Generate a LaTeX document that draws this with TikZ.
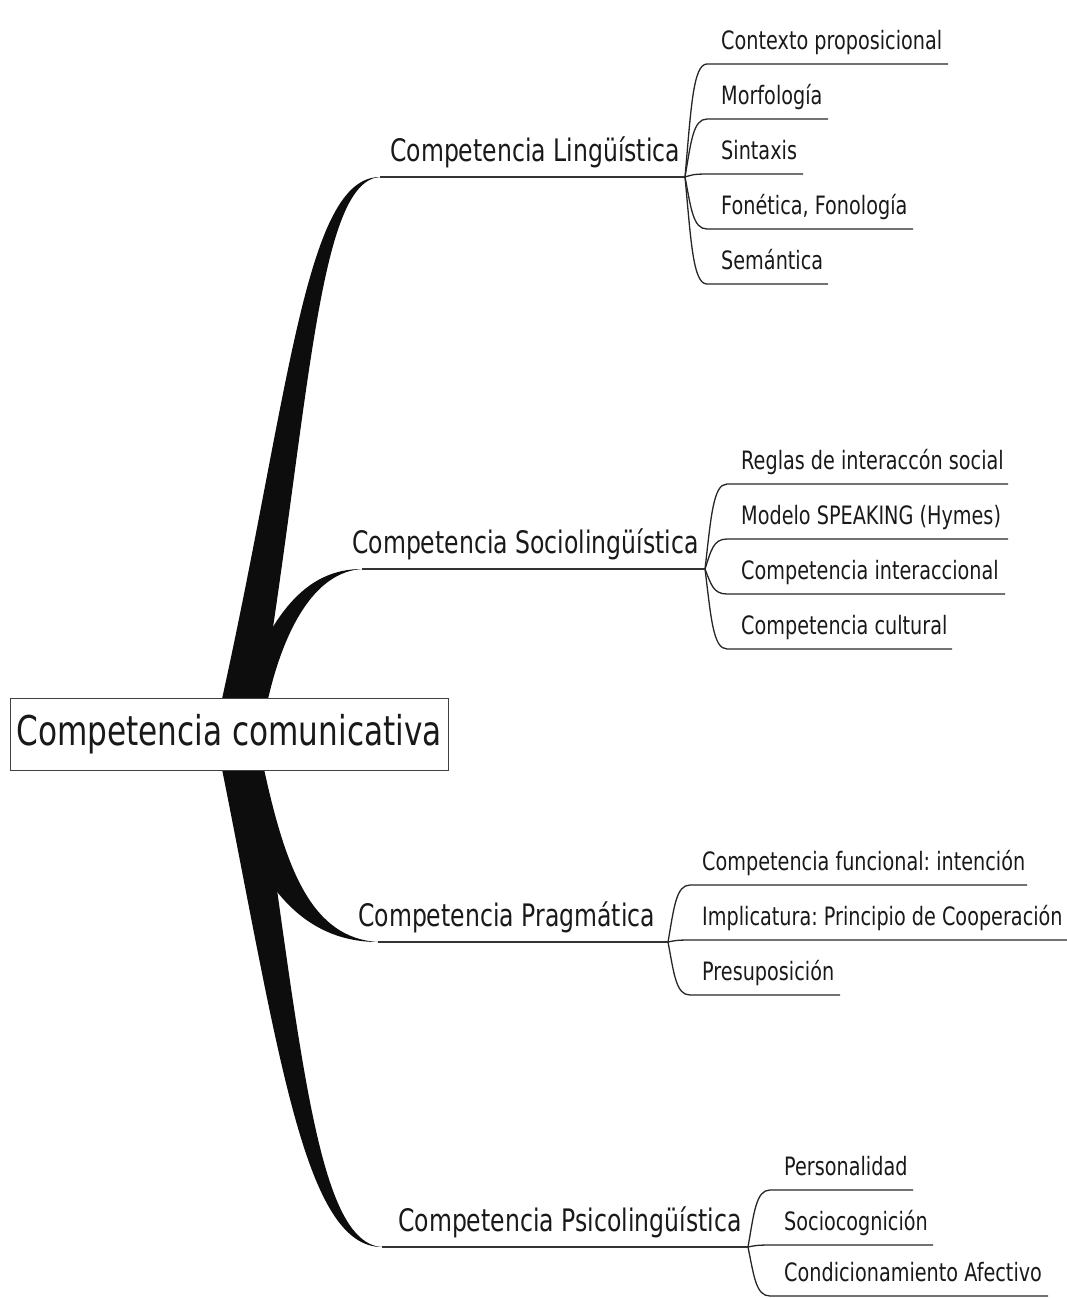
\documentclass[tikz,border=0pt]{standalone}
\usepackage{fontspec}
\setmainfont{DejaVu Sans}[FakeStretch=0.76]
\usetikzlibrary{calc}
\frenchspacing
\begin{document}
\begin{tikzpicture}[x=1pt,y=-1pt,
  trunk/.style={fill=black!95, draw=none},
  bline/.style={draw=black!80, line width=1.6pt},
  cline/.style={draw=black!85, line width=1.3pt},
  rootbox/.style={draw=black!75, line width=1pt, fill=white, minimum width=438pt, minimum height=72pt, inner sep=0pt, font=\fontsize{41}{48}\selectfont, text=black!90},
  btext/.style={anchor=base west, inner sep=0pt, font=\fontsize{31}{36}\selectfont, text=black!90},
  ctext/.style={anchor=base west, inner sep=0pt, font=\fontsize{25.3}{30}\selectfont, text=black!90}]
\useasboundingbox (0,0) rectangle (1067,1298);

% trunk end points
\coordinate (lingA) at (380,177);
\coordinate (socA)  at (362,569);
\coordinate (pragA) at (378,942);
\coordinate (psiA)  at (382,1247);

% thick tapered trunks
\fill[trunk] (222,699) .. controls (290,390) and (305,177) .. (lingA)
  .. controls (318,181) and (310,400) .. (262,699) -- cycle;
\fill[trunk] (240,699) .. controls (270,615) and (305,569) .. (socA)
  .. controls (314,572) and (284,630) .. (268,699) -- cycle;
\fill[trunk] (224,769) .. controls (250,880) and (300,942) .. (pragA)
  .. controls (312,938) and (286,870) .. (264,769) -- cycle;
\fill[trunk] (222,769) .. controls (280,1060) and (305,1247) .. (psiA)
  .. controls (318,1243) and (302,1060) .. (260,769) -- cycle;

% root
\node[rootbox] (root) at (229,734) {Competencia comunicativa};

% branches
\node[btext] (ling) at (390,161) {Competencia Lingüística};
\node[btext] (soc)  at (352,553) {Competencia Sociolingüística};
\node[btext] (prag) at (358,926) {Competencia Pragmática};
\node[btext] (psi)  at (398,1231) {Competencia Psicolingüística};

\coordinate (lingF) at (685,177);
\coordinate (socF)  at (705,569);
\coordinate (pragF) at (668,942);
\coordinate (psiF)  at (748,1247);

\draw[bline] (lingA) -- (lingF);
\draw[bline] (socA) -- (socF);
\draw[bline] (pragA) -- (pragF);
\draw[bline] (psiA) -- (psiF);

% children of Lingüística
\foreach \yy/\ee/\tt [count=\i] in {64/948/{Contexto proposicional}, 119/828/{Morfología}, 174/803/{Sintaxis}, 229/913/{Fonética, Fonología}, 284/828/{Semántica}} {
  \coordinate (L\i s) at (707,\yy);
  \coordinate (L\i e) at (\ee,\yy);
  \node[ctext] (L\i) at (721,\yy-15) {\tt};
  \draw[cline] (lingF) .. controls +(6,{(\yy-177)*0.6}) and +(-14,0) .. (L\i s) -- (L\i e);
}
% children of Sociolingüística
\foreach \yy/\ee/\tt [count=\i] in {484/1008/{Reglas de interaccón social}, 539/1008/{Modelo SPEAKING (Hymes)}, 594/1005/{Competencia interaccional}, 649/952/{Competencia cultural}} {
  \coordinate (S\i s) at (727,\yy);
  \coordinate (S\i e) at (\ee,\yy);
  \node[ctext] (S\i) at (741,\yy-15) {\tt};
  \draw[cline] (socF) .. controls +(6,{(\yy-569)*0.6}) and +(-14,0) .. (S\i s) -- (S\i e);
}
% children of Pragmática
\foreach \yy/\ee/\tt [count=\i] in {885/1027/{Competencia funcional: intención}, 940/1067/{Implicatura: Principio de Cooperación}, 995/840/{Presuposición}} {
  \coordinate (P\i s) at (690,\yy);
  \coordinate (P\i e) at (\ee,\yy);
  \node[ctext] (P\i) at (702,\yy-15) {\tt};
  \draw[cline] (pragF) .. controls +(6,{(\yy-942)*0.6}) and +(-14,0) .. (P\i s) -- (P\i e);
}
% children of Psicolingüística
\foreach \yy/\ee/\tt [count=\i] in {1190/913/{Personalidad}, 1245/933/{Sociocognición}, 1296/1048/{Condicionamiento Afectivo}} {
  \coordinate (Q\i s) at (770,\yy);
  \coordinate (Q\i e) at (\ee,\yy);
  \node[ctext] (Q\i) at (784,\yy-15) {\tt};
  \draw[cline] (psiF) .. controls +(6,{(\yy-1247)*0.6}) and +(-14,0) .. (Q\i s) -- (Q\i e);
}
\end{tikzpicture}
\end{document}
